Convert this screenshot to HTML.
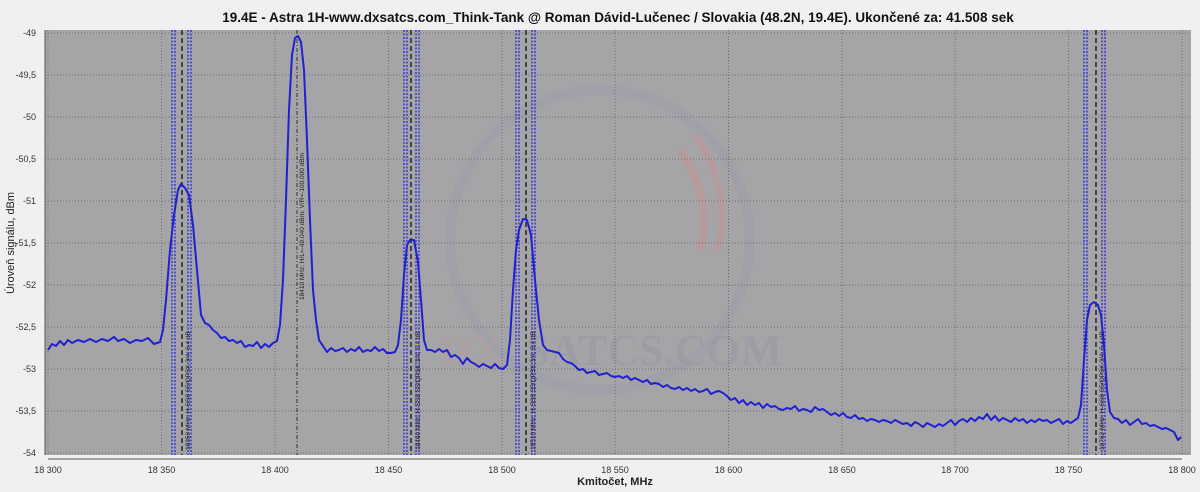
<!DOCTYPE html>
<html><head><meta charset="utf-8"><style>
body{margin:0;background:#f0f0f0;width:1200px;height:487px;overflow:hidden;font-family:"Liberation Sans",sans-serif}
</style></head><body>
<svg width="1200" height="487" xmlns="http://www.w3.org/2000/svg" font-family="Liberation Sans, DejaVu Sans, sans-serif">
<rect width="1200" height="487" fill="#f0f0f0"/>
<text x="618" y="22" text-anchor="middle" font-size="13.5" font-weight="bold" fill="#111">19.4E - Astra 1H-www.dxsatcs.com_Think-Tank @ Roman Dávid-Lučenec / Slovakia (48.2N, 19.4E). Ukončené za: 41.508 sek</text>
<rect x="45" y="30" width="1146" height="425" fill="#a5a5a8"/>
<!-- watermark -->
<circle cx="600" cy="240" r="150" fill="none" stroke="#9c9ca8" stroke-width="10" opacity="0.6"/>
<path d="M680 150 A120 120 0 0 1 700 250" fill="none" stroke="#b69a9c" stroke-width="8"/>
<path d="M695 135 A140 140 0 0 1 718 250" fill="none" stroke="#b69a9c" stroke-width="6"/>
<text x="440" y="365" font-size="44" font-weight="bold" font-family="Liberation Serif, serif" fill="#b0a0a0" opacity="0.7">DX</text>
<text x="525" y="365" font-size="44" font-weight="bold" font-family="Liberation Serif, serif" fill="#9a9aa6" opacity="0.7">SATCS.COM</text>
<g stroke="#6e6e72" stroke-width="1" stroke-dasharray="1,2">
<line x1="45" y1="33" x2="1191" y2="33"/><line x1="45" y1="75" x2="1191" y2="75"/><line x1="45" y1="117" x2="1191" y2="117"/><line x1="45" y1="159" x2="1191" y2="159"/><line x1="45" y1="201" x2="1191" y2="201"/><line x1="45" y1="243" x2="1191" y2="243"/><line x1="45" y1="285" x2="1191" y2="285"/><line x1="45" y1="327" x2="1191" y2="327"/><line x1="45" y1="369" x2="1191" y2="369"/><line x1="45" y1="411" x2="1191" y2="411"/><line x1="45" y1="453" x2="1191" y2="453"/>
<line x1="48" y1="30" x2="48" y2="455"/><line x1="161.5" y1="30" x2="161.5" y2="455"/><line x1="275" y1="30" x2="275" y2="455"/><line x1="388.5" y1="30" x2="388.5" y2="455"/><line x1="502" y1="30" x2="502" y2="455"/><line x1="615" y1="30" x2="615" y2="455"/><line x1="728.5" y1="30" x2="728.5" y2="455"/><line x1="842" y1="30" x2="842" y2="455"/><line x1="955" y1="30" x2="955" y2="455"/><line x1="1068.5" y1="30" x2="1068.5" y2="455"/><line x1="1182" y1="30" x2="1182" y2="455"/>
</g>
<!-- markers -->
<g stroke="#2a2ad8" stroke-width="1.3" stroke-dasharray="2,1.5">
<line x1="172" y1="30" x2="172" y2="455"/><line x1="175" y1="30" x2="175" y2="455"/><line x1="188" y1="30" x2="188" y2="455"/><line x1="191" y1="30" x2="191" y2="455"/>
<line x1="404" y1="30" x2="404" y2="455"/><line x1="407" y1="30" x2="407" y2="455"/><line x1="416" y1="30" x2="416" y2="455"/><line x1="419" y1="30" x2="419" y2="455"/>
<line x1="516" y1="30" x2="516" y2="455"/><line x1="519" y1="30" x2="519" y2="455"/><line x1="532" y1="30" x2="532" y2="455"/><line x1="535" y1="30" x2="535" y2="455"/>
<line x1="1084" y1="30" x2="1084" y2="455"/><line x1="1087" y1="30" x2="1087" y2="455"/><line x1="1102" y1="30" x2="1102" y2="455"/><line x1="1105" y1="30" x2="1105" y2="455"/>
</g>
<g stroke="#111" stroke-width="1.3" stroke-dasharray="5,3">
<line x1="182" y1="30" x2="182" y2="455"/><line x1="411" y1="30" x2="411" y2="455"/><line x1="526" y1="30" x2="526" y2="455"/><line x1="1096" y1="30" x2="1096" y2="455"/>
</g>
<line x1="297" y1="30" x2="297" y2="455" stroke="#333" stroke-dasharray="4,2,1,2"/>
<g font-size="6.5" fill="#222">
<text transform="translate(304,300) rotate(-90)">18410 MHz; H/L=-49.040 dBm; V/R=-100.000 dBm</text>
<text transform="translate(190,450) rotate(-90)">18359 MHz; H-SS8 S5/QPSK 3/4; 6.4 dB</text>
<text transform="translate(420,450) rotate(-90)">18460 MHz; H-SS8 S5/QPSK 3/4; 6.4 dB</text>
<text transform="translate(535,450) rotate(-90)">18510 MHz; H-SS8 S5/QPSK 3/4; 6.4 dB</text>
<text transform="translate(1104,450) rotate(-90)">18762 MHz; H-SS8 S5/QPSK 3/4; 6.4 dB</text>
</g>
<polyline fill="none" stroke="#2020d0" stroke-width="2" stroke-linejoin="round" points="
48,350 52,344 56,346 60,341 64,345 68,340 72,343 78,340 84,342 90,339 96,342 102,339 108,341 114,337 118,341 124,339 130,343 136,340 142,341 148,338 154,344 160,342 163,330 166,300 170,250 174,215 178,190 181,184 185,188 189,195 193,225 197,270 201,315 205,323 209,325 213,330 217,333 221,338 225,337 229,341 233,340 237,343 241,341 245,347 249,345 253,346 257,342 261,348 265,344 269,347 273,343 277,341 280,325 283,280 286,200 289,110 292,55 295,38 298,36 301,42 304,70 307,140 310,220 313,290 316,320 319,340 323,346 327,352 331,348 335,351 339,350 343,348 347,352 351,349 355,351 359,347 363,352 367,350 371,351 375,347 379,351 383,349 387,353 391,353 395,352 398,345 401,320 404,275 407,245 410,240 414,240 418,262 421,300 424,340 427,350 431,350 435,352 439,349 443,352 447,350 451,357 455,355 459,358 463,364 467,358 471,362 475,364 479,367 483,364 487,366 491,368 495,364 499,368 503,369 507,365 510,340 513,290 516,250 519,230 523,219 527,220 531,235 535,280 539,320 543,345 547,350 551,351 555,352 559,353 563,359 567,362 571,363 575,366 579,370 583,369 587,373 591,372 595,371 599,375 603,374 607,373 611,376 615,377 619,376 623,378 627,376 631,380 635,378 639,380 643,382 647,380 651,384 655,383 659,384 663,387 667,385 671,388 675,389 679,387 683,390 687,388 691,391 695,389 699,392 703,391 707,389 711,394 715,392 719,391 723,393 727,396 731,400 735,398 739,403 743,400 747,405 751,402 755,405 759,403 763,408 767,404 771,407 775,406 779,409 783,410 787,408 791,409 795,406 799,411 803,409 807,410 811,412 815,407 819,410 823,409 827,412 831,415 835,413 839,416 843,413 847,417 851,418 855,415 859,419 863,418 867,421 871,419 875,420 879,422 883,420 887,421 891,423 895,420 899,422 903,424 907,423 911,426 915,422 919,424 923,427 927,423 931,425 935,427 939,424 943,426 947,423 951,420 955,425 959,421 963,419 967,422 971,418 975,421 979,417 983,419 987,414 991,420 995,416 999,421 1003,418 1007,420 1011,422 1015,418 1019,421 1023,419 1027,423 1031,420 1035,422 1039,419 1043,421 1047,420 1051,423 1055,421 1059,419 1063,424 1067,421 1071,423 1075,420 1078,418 1081,405 1084,360 1087,320 1090,305 1094,302 1098,305 1101,315 1104,345 1107,390 1110,412 1114,418 1118,419 1122,423 1126,420 1130,425 1134,422 1138,419 1142,424 1146,423 1150,426 1154,425 1158,427 1162,429 1166,428 1170,430 1174,432 1178,440 1181,437"/>
<!-- axes -->
<line x1="45" y1="30" x2="45" y2="455" stroke="#555"/>
<line x1="48" y1="459" x2="1182" y2="459" stroke="#555"/>
<g font-size="9" fill="#333" text-anchor="end">
<text x="36" y="36">-49</text><text x="36" y="78">-49,5</text><text x="36" y="120">-50</text><text x="36" y="162">-50,5</text><text x="36" y="204">-51</text><text x="36" y="246">-51,5</text><text x="36" y="288">-52</text><text x="36" y="330">-52,5</text><text x="36" y="372">-53</text><text x="36" y="414">-53,5</text><text x="36" y="456">-54</text>
</g>
<g font-size="9" fill="#333" text-anchor="middle">
<text x="48" y="473">18 300</text><text x="161.5" y="473">18 350</text><text x="275" y="473">18 400</text><text x="388.5" y="473">18 450</text><text x="502" y="473">18 500</text><text x="615" y="473">18 550</text><text x="728.5" y="473">18 600</text><text x="842" y="473">18 650</text><text x="955" y="473">18 700</text><text x="1068.5" y="473">18 750</text><text x="1182" y="473">18 800</text>
</g>
<text x="615" y="485" text-anchor="middle" font-size="11" font-weight="bold" fill="#222">Kmitočet, MHz</text>
<text transform="translate(14,243) rotate(-90)" text-anchor="middle" font-size="11" fill="#222">Úroveň signálu, dBm</text>
</svg>
</body></html>
